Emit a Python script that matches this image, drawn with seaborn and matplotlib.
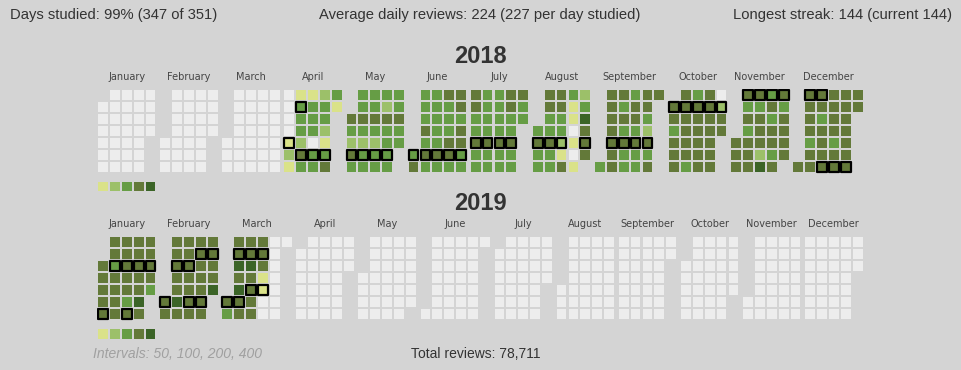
import datetime as dt
import numpy as np
import pandas as pd
import matplotlib.pyplot as plt
import seaborn as sns

# --- data ----------------------------------------------------------------
# one digit per day of the month: 0 = no reviews, 1..5 = interval level
month_names = ["January", "February", "March", "April", "May", "June", "July",
               "August", "September", "October", "November", "December"]

levels_2018 = [
    "0" * 31,
    "0" * 28,
    "0" * 31,
    "0000121" "1333243" "1333033" "2332134" "31",
    "43243" "3343233" "3343233" "3243333" "33433",
    "34" "3334343" "3333343" "4333443" "4434433",
    "4433433" "3333433" "3333433" "4433433" "433",
    "3433" "4433433" "4433214" "3110101" "235444",
    "3" "4444444" "4343433" "3443433" "4432434" "4",
    "443444" "4444443" "3444444" "4444444" "0244",
    "444" "4343444" "4344425" "3434434" "434444",
    "4" "4444344" "4434444" "4444344" "4444444" "44",
]

levels_2019 = [
    "44444" "4434444" "4444434" "4444454" "44443",
    "44" "4444454" "4444444" "4444444" "44445",
    "43" "4454544" "4454444" "4441100" "0000000" "0",
    "0" * 30, "0" * 31, "0" * 30, "0" * 31, "0" * 31,
    "0" * 30, "0" * 31, "0" * 30, "0" * 31,
]

# days drawn with a black outline
marked_2018 = ["04-05", "04-09", "04-13", "04-20", "04-27",
               "05-04", "05-11", "05-18", "05-25",
               "06-01", "06-08", "06-15", "06-22", "06-29",
               "07-05", "07-12", "07-19", "07-26",
               "08-02", "08-09", "08-16", "08-30",
               "09-06", "09-13", "09-20", "09-27",
               "10-01", "10-08", "10-15", "10-22", "10-29",
               "11-04", "11-11", "11-18", "11-25",
               "12-02", "12-09", "12-15", "12-22", "12-29"]
marked_2019 = ["01-05", "01-08", "01-15", "01-19", "01-22", "01-29",
               "02-01", "02-05", "02-12", "02-15", "02-18", "02-22", "02-25",
               "03-01", "03-04", "03-08", "03-11", "03-14", "03-18", "03-21"]

level_colors = ["#ededed", "#dae289", "#9cc069", "#669d45", "#637939", "#3b6427"]
intervals = [50, 100, 200, 400]

header_left = "Days studied: 99% (347 of 351)"
header_mid = "Average daily reviews: 224 (227 per day studied)"
header_right = "Longest streak: 144 (current 144)"
total_text = "Total reviews: 78,711"

# --- layout --------------------------------------------------------------
BG = "#d4d4d4"
W, H = 962, 370
PX, PY = 11.9, 12.0      # cell pitch in pixels
GAP = 0.22               # extra gap between months, in cell units
CELL_PT = 9.8 * 0.72     # marker side in points


def build_year(year, levels, marked):
    rows = []
    col0 = 0
    for m, days in enumerate(levels):
        first = dt.date(year, m + 1, 1)
        off = (first.weekday() + 1) % 7   # sunday first
        for d, ch in enumerate(days):
            pos = d + off
            rows.append({"month": m, "day": d + 1,
                         "x": col0 + pos // 7 + m * GAP,
                         "y": pos % 7,
                         "level": int(ch),
                         "marked": f"{m + 1:02d}-{d + 1:02d}" in marked})
        col0 += (len(days) - 1 + off) // 7 + 1
    return pd.DataFrame(rows)


sns.set_theme(style="white", rc={"figure.facecolor": BG, "axes.facecolor": BG,
                                 "savefig.facecolor": BG})
plt.rcParams["font.family"] = ["DejaVu Sans"]

fig = plt.figure(figsize=(W / 100, H / 100), dpi=100)
pal = {i: c for i, c in enumerate(level_colors)}

for year, levels, marked, top_px in [(2018, levels_2018, marked_2018, 88.7),
                                     (2019, levels_2019, marked_2019, 236.0)]:
    df = build_year(year, levels, marked)
    xmax = df["x"].max()
    ylo, yhi = -0.5, 8.2
    ax = fig.add_axes([97 / W, 1 - (top_px + (yhi - ylo) * PY) / H,
                       (xmax + 1) * PX / W, (yhi - ylo) * PY / H])

    sns.scatterplot(data=df[~df["marked"]], x="x", y="y", hue="level", palette=pal,
                    marker="s", s=CELL_PT ** 2, linewidth=0, legend=False, ax=ax)
    sns.scatterplot(data=df[df["marked"]], x="x", y="y", hue="level", palette=pal,
                    marker="s", s=CELL_PT ** 2, edgecolor="black", linewidth=1.6,
                    legend=False, ax=ax)

    # colour key under the grid
    key = pd.DataFrame({"x": np.arange(5), "y": 7.65, "level": np.arange(1, 6)})
    sns.scatterplot(data=key, x="x", y="y", hue="level", palette=pal, marker="s",
                    s=CELL_PT ** 2, linewidth=0, legend=False, ax=ax)

    ax.set_xlim(-0.5, xmax + 0.5)
    ax.set_ylim(yhi, ylo)
    for sp in ax.spines.values():
        sp.set_visible(False)

    centers = df.groupby("month")["x"].agg(lambda s: (s.min() + s.max()) / 2)
    ax.xaxis.tick_top()
    ax.set_xticks(centers.values, labels=month_names)
    ax.tick_params(axis="x", length=0, pad=5, labelsize=7, labelcolor="#444444")
    ax.set_yticks([])
    ax.set_xlabel("")
    ax.set_ylabel("")
    ax.set_title(str(year), y=1 + 25.5 / ((yhi - ylo) * PY), pad=0, fontsize=17,
                 fontweight="bold", color="#333333", family="Liberation Sans")

txt = dict(family="Liberation Sans", color="#333333", va="center")
fig.text(10 / W, 1 - 15 / H, header_left, ha="left", fontsize=10.6, **txt)
fig.text(480 / W, 1 - 15 / H, header_mid, ha="center", fontsize=10.6, **txt)
fig.text(952 / W, 1 - 15 / H, header_right, ha="right", fontsize=10.6, **txt)
fig.text(93 / W, 1 - 354 / H, "Intervals: " + ", ".join(str(i) for i in intervals),
         ha="left", fontsize=10, style="italic", family="Liberation Sans",
         color="#a0a0a0", va="center")
fig.text(476 / W, 1 - 354 / H, total_text, ha="center", fontsize=10, **txt)

fig.savefig("out.png", dpi=100)
